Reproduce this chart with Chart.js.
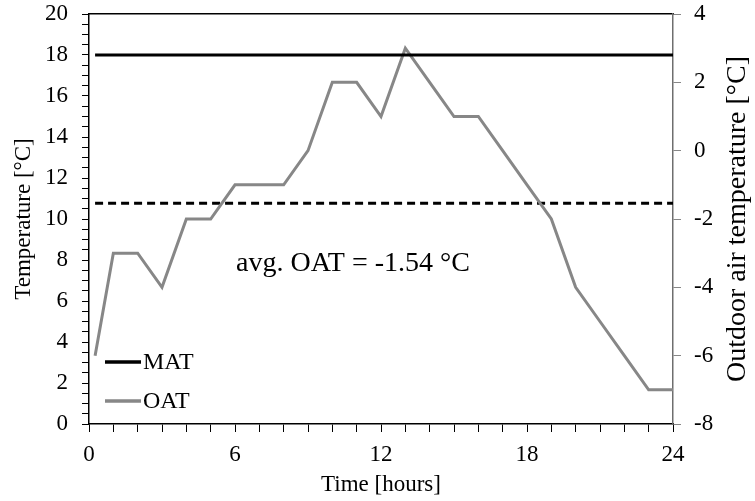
<!DOCTYPE html>
<html>
<head>
<meta charset="utf-8">
<script src="https://cdn.jsdelivr.net/npm/chart.js@4/dist/chart.umd.min.js"></script>
<style>
  html, body { margin: 0; padding: 0; background: #fff; }
  #wrap { width: 755px; height: 501px; position: relative; }
</style>
</head>
<body>
<div id="wrap"><canvas id="c" width="755" height="501"></canvas></div>
<script>
// ---- data ----
const hours = [0.25, 1, 2, 3, 4, 5, 6, 7, 8, 9, 10, 11, 12, 13, 14, 15, 16, 17, 18, 19, 20, 21, 22, 23, 24];
const oat   = [-6, -3, -3, -4, -2, -2, -1, -1, -1, 0, 2, 2, 1, 3, 2, 1, 1, 0, -1, -2, -4, -5, -6, -7, -7];
const matValue = 18;           // MAT, left axis
const avgOAT = -1.54;          // average OAT, right axis
const lineStart = 0.25;
const lineEnd = 24;
const xTickLabels = [0, 6, 12, 18, 24];
const yLeftTickLabels = [0, 2, 4, 6, 8, 10, 12, 14, 16, 18, 20];
const yRightTickLabels = [-8, -6, -4, -2, 0, 2, 4];
const annotationText = 'avg. OAT = ' + avgOAT + ' \u00B0C';
const annotationPos = { x: 10.85, y: 7.8 };   // hours, left-axis value

const FONT = "'Liberation Serif', 'Times New Roman', serif";
const GRAY = '#878787';

const oatPoints = hours.map((h, i) => ({ x: h, y: oat[i] }));

function noPad(s) { s.paddingTop = 0; s.paddingBottom = 0; s.paddingLeft = 0; s.paddingRight = 0; }

const extras = {
  id: 'extras',
  afterDatasetsDraw(chart) {
    const ctx = chart.ctx;
    const ca = chart.chartArea;
    const xs = chart.scales.x, yl = chart.scales.y;
    ctx.save();
    // annotation
    ctx.fillStyle = '#000';
    ctx.font = '28px ' + FONT;
    ctx.textAlign = 'center';
    ctx.textBaseline = 'middle';
    ctx.fillText(annotationText, xs.getPixelForValue(annotationPos.x), yl.getPixelForValue(annotationPos.y));
    // legend
    const items = [
      { label: chart.data.datasets[0].label, color: chart.data.datasets[0].borderColor, y: ca.bottom - 62 },
      { label: chart.data.datasets[1].label, color: chart.data.datasets[1].borderColor, y: ca.bottom - 23 }
    ];
    ctx.font = '24px ' + FONT;
    ctx.textAlign = 'left';
    items.forEach(it => {
      ctx.strokeStyle = it.color;
      ctx.lineWidth = 3.5;
      ctx.beginPath();
      ctx.moveTo(ca.left + 16, it.y);
      ctx.lineTo(ca.left + 52, it.y);
      ctx.stroke();
      ctx.fillStyle = '#000';
      ctx.fillText(it.label, ca.left + 54, it.y + 1);
    });
    // right axis title (reads bottom to top)
    ctx.save();
    ctx.translate(738, (ca.top + ca.bottom) / 2);
    ctx.rotate(-Math.PI / 2);
    ctx.font = '28px ' + FONT;
    ctx.textAlign = 'center';
    ctx.textBaseline = 'middle';
    ctx.fillStyle = '#000';
    ctx.fillText('Outdoor air temperature [\u00B0C]', 0, 0);
    ctx.restore();
    ctx.restore();
  }
};

new Chart(document.getElementById('c'), {
  type: 'line',
  data: {
    datasets: [
      {
        label: 'MAT',
        data: [{ x: lineStart, y: matValue }, { x: lineEnd, y: matValue }],
        borderColor: '#000', borderWidth: 3, pointRadius: 0, yAxisID: 'y', fill: false
      },
      {
        label: 'OAT',
        data: oatPoints,
        borderColor: GRAY, borderWidth: 3, pointRadius: 0, yAxisID: 'y2', fill: false,
        tension: 0
      },
      {
        label: 'avg',
        data: [{ x: lineStart, y: avgOAT }, { x: lineEnd, y: avgOAT }],
        borderColor: '#000', borderWidth: 3, borderDash: [8, 5], pointRadius: 0, yAxisID: 'y2', fill: false
      }
    ]
  },
  options: {
    responsive: false,
    animation: false,
    layout: { padding: 0, autoPadding: false },
    plugins: { legend: { display: false }, tooltip: { enabled: false } },
    scales: {
      x: {
        type: 'linear', position: 'bottom', min: 0, max: 24,
        afterFit: s => { s.height = 77; noPad(s); },
        afterBuildTicks: s => { s.ticks = []; for (let v = 0; v <= 24; v++) s.ticks.push({ value: v }); },
        ticks: {
          autoSkip: false, maxRotation: 0, padding: 9, color: '#000',
          font: { family: FONT, size: 23 },
          callback: v => xTickLabels.includes(v) ? String(v) : ''
        },
        grid: { drawOnChartArea: false, tickLength: 8, color: '#000', tickWidth: 1 },
        border: { color: '#000', width: 1.5 },
        title: { display: true, text: 'Time [hours]', color: '#000', font: { family: FONT, size: 23 }, padding: { top: 0, bottom: 2 } }
      },
      x2: {
        type: 'linear', position: 'top', min: 0, max: 24,
        afterFit: s => { s.height = 14; noPad(s); },
        ticks: { display: false },
        grid: { display: false, drawTicks: false },
        border: { color: '#000', width: 1.5 }
      },
      y: {
        type: 'linear', position: 'left', min: 0, max: 20,
        afterFit: s => { s.width = 89; noPad(s); },
        afterBuildTicks: s => { s.ticks = []; for (let v = 0; v <= 40; v++) s.ticks.push({ value: v / 2 }); },
        ticks: {
          autoSkip: false, padding: 14, color: '#000',
          font: { family: FONT, size: 23 },
          callback: v => yLeftTickLabels.includes(v) ? String(v) : ''
        },
        grid: { drawOnChartArea: false, tickLength: 7, color: '#000', tickWidth: 1 },
        border: { color: '#000', width: 1.5 },
        title: { display: true, text: 'Temperature [\u00B0C]', color: '#000', font: { family: FONT, size: 23 }, padding: { top: 10, bottom: 0 } }
      },
      y2: {
        type: 'linear', position: 'right', min: -8, max: 4,
        afterFit: s => { s.width = 82; noPad(s); },
        afterBuildTicks: s => { s.ticks = yRightTickLabels.map(v => ({ value: v })); },
        ticks: {
          autoSkip: false, padding: 13, color: '#000',
          font: { family: FONT, size: 23 },
          callback: v => String(v)
        },
        grid: { drawOnChartArea: false, tickLength: 8, color: GRAY, tickWidth: 1 },
        border: { color: '#6e6e6e', width: 1.5 }
      }
    }
  },
  plugins: [extras]
});
</script>
</body>
</html>
